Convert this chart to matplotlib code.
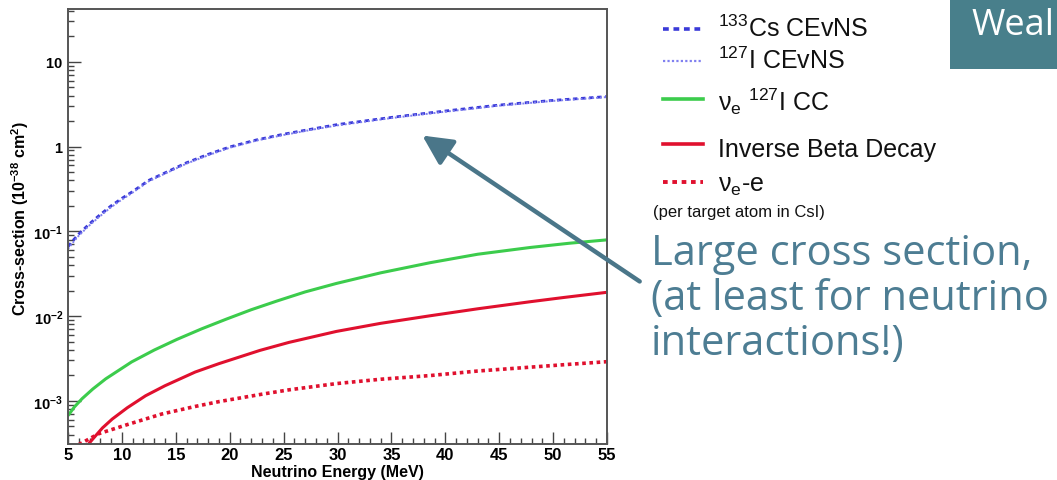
import matplotlib
matplotlib.use("Agg")
import matplotlib.pyplot as plt
from matplotlib.lines import Line2D
from matplotlib.patches import FancyArrowPatch, Rectangle, ArrowStyle
from matplotlib.ticker import FixedLocator, LogLocator, NullFormatter, MultipleLocator

plt.rcParams["font.family"] = ["Liberation Sans", "DejaVu Sans"]
plt.rcParams["mathtext.fontset"] = "custom"
plt.rcParams["mathtext.rm"] = "Liberation Sans"
plt.rcParams["mathtext.it"] = "Liberation Sans:italic"
plt.rcParams["mathtext.bf"] = "Liberation Sans:bold"

# ---- cross sections per target atom in CsI (1e-38 cm^2) vs neutrino energy (MeV)
cs_energy = [5, 5.5, 6, 7, 8, 9, 10, 11, 12.5, 14, 16, 18, 20, 22.5, 25, 27.5, 30, 35, 40, 45, 50, 55]
cs_cevns = [0.066, 0.079, 0.093, 0.123, 0.158, 0.200, 0.245, 0.295, 0.40, 0.49, 0.645, 0.81,
            0.99, 1.20, 1.40, 1.60, 1.82, 2.21, 2.63, 3.09, 3.51, 3.89]

i_energy = [5, 5.5, 6, 7, 8, 9, 10, 11, 12.5, 14, 16, 18, 20, 22.5, 25, 27.5, 30, 35, 40, 45, 50, 55]
i_cevns = [0.062, 0.075, 0.089, 0.118, 0.152, 0.193, 0.237, 0.287, 0.39, 0.48, 0.63, 0.79,
           0.97, 1.18, 1.37, 1.57, 1.78, 2.17, 2.58, 3.04, 3.46, 3.84]

cc_energy = [5, 5.6, 6.3, 7.3, 8.5, 10.9, 13, 15.1, 17.4, 19.7, 22, 24.4, 27, 29.9, 34,
             38.6, 43, 47.9, 51.5, 55]
nue_i_cc = [6.7e-4, 8.5e-4, 1.06e-3, 1.38e-3, 1.82e-3, 2.88e-3, 3.98e-3, 5.31e-3, 7.08e-3,
            9.23e-3, 0.0119, 0.0151, 0.0193, 0.0243, 0.0324, 0.0427, 0.0537, 0.0646, 0.0724, 0.0794]

ibd_energy = [6.9, 7.5, 8.2, 9.1, 10.5, 12.2, 14, 16.8, 19, 22.8, 25.5, 29.9, 34, 38.6,
              43, 47.9, 51, 55]
ibd = [3.1e-4, 3.8e-4, 4.8e-4, 6.1e-4, 8.3e-4, 1.15e-3, 1.51e-3, 2.19e-3, 2.75e-3, 3.94e-3,
       4.9e-3, 6.6e-3, 8.22e-3, 0.0101, 0.0122, 0.0148, 0.0166, 0.0191]

nue_e_energy = [6.0, 7.85, 10.6, 13.7, 16.8, 19, 23, 25.5, 29.9, 34, 38.6, 43, 47.9, 51.5, 55]
nue_e = [3.05e-4, 4.1e-4, 5.3e-4, 7.0e-4, 8.6e-4, 9.8e-4, 1.2e-3, 1.35e-3, 1.6e-3, 1.8e-3,
         1.99e-3, 2.25e-3, 2.5e-3, 2.7e-3, 2.9e-3]

x_ticks = [5, 10, 15, 20, 25, 30, 35, 40, 45, 50, 55]
y_ticks = [1e-3, 1e-2, 1e-1, 1, 10]
y_tick_labels = [r"$\mathbf{10^{-3}}$", r"$\mathbf{10^{-2}}$", r"$\mathbf{10^{-1}}$",
                 r"$\mathbf{1}$", r"$\mathbf{10}$"]

legend_labels = [r"$^{133}$Cs CEvNS", r"$^{127}$I CEvNS", r"ν$_\mathrm{e}$ $^{127}$I CC",
                 "Inverse Beta Decay", r"ν$_\mathrm{e}$-e"]

W, H = 1057, 481
fig = plt.figure(figsize=(W / 100, H / 100), dpi=100)


def fx(x):
    return x / W


def fy(y):
    return 1 - y / H


ax = fig.add_axes([fx(68), fy(445), fx(607 - 68), (445 - 10) / H])

c_cs = "#3a3ad8"
c_i = "#8080f0"
c_green = "#3ccc4c"
c_red = "#e0102e"

ax.plot(cs_energy, cs_cevns, color=c_cs, lw=2.0, dashes=(1.6, 1.3))
ax.plot(i_energy, i_cevns, color=c_i, lw=1.4, dashes=(1, 1))
ax.plot(cc_energy, nue_i_cc, color=c_green, lw=2.2, solid_capstyle="butt")
ax.plot(nue_e_energy, nue_e, color=c_red, lw=2.6, dashes=(1.0, 1.0))
ax.plot(ibd_energy, ibd, color=c_red, lw=2.2, solid_capstyle="butt")

ax.set_yscale("log")
ax.set_xlim(5, 55)
ax.set_ylim(3.1e-4, 42)

ax.xaxis.set_major_locator(FixedLocator(x_ticks))
ax.xaxis.set_minor_locator(MultipleLocator(1))
ax.set_xticklabels([str(v) for v in x_ticks])
ax.yaxis.set_major_locator(FixedLocator(y_ticks))
ax.yaxis.set_minor_locator(LogLocator(base=10, subs=range(2, 10), numticks=20))
ax.yaxis.set_minor_formatter(NullFormatter())
ax.set_yticklabels(y_tick_labels)

ax.tick_params(which="both", direction="in", top=False, right=False, color="#444444", width=1.0)
ax.tick_params(which="major", length=9)
ax.tick_params(which="minor", length=4.5)
ax.tick_params(axis="x", which="major", labelsize=12, pad=2.5)
ax.tick_params(axis="y", which="major", labelsize=10.5, pad=3.5)
for lab in ax.get_xticklabels():
    lab.set_fontweight("bold")

for sp in ax.spines.values():
    sp.set_color("#555555")
    sp.set_linewidth(1.4)

fig.text(fx(337), fy(473), "Neutrino Energy (MeV)", ha="center", va="center",
         fontsize=11.5, fontweight="bold")
fig.text(fx(20), fy(219), r"Cross-section (10$^{\mathbf{-38}}$ cm$^{\mathbf{2}}$)",
         rotation=90, ha="center", va="center", fontsize=11.5, fontweight="bold")

# legend drawn beside the axes
line_styles = [
    dict(color=c_cs, lw=2.6, dashes=(1.6, 1.3)),
    dict(color=c_i, lw=1.6, dashes=(1, 1)),
    dict(color=c_green, lw=2.6),
    dict(color=c_red, lw=2.6),
    dict(color=c_red, lw=2.8, dashes=(1.2, 1.2)),
]
line_rows = [30, 62, 100, 145, 183]
text_rows = [37, 69, 111, 157, 192]
for lab, st, ly, ty in zip(legend_labels, line_styles, line_rows, text_rows):
    fig.add_artist(Line2D([fx(663), fx(703)], [fy(ly), fy(ly)], transform=fig.transFigure, **st))
    fig.text(fx(718), fy(ty), lab, ha="left", va="baseline", fontsize=18, color="#111111")
fig.text(fx(653), fy(212), "(per target atom in CsI)", ha="left", va="center",
         fontsize=12, color="#111111")

# title box at the top right
fig.add_artist(Rectangle((fx(950), fy(70)), fx(W - 950), 70 / H, transform=fig.transFigure,
                         facecolor="#487f8b", edgecolor="none"))
fig.text(fx(971), fy(35), "Weal", ha="left", va="baseline", fontsize=26,
         family="Open Sans", color="white")

# callout
note_color = "#4d7d93"
for txt, base in zip(["Large cross section,", "(at least for neutrino", "interactions!)"],
                     [265, 310, 355]):
    fig.text(fx(651), fy(base), txt, ha="left", va="baseline", fontsize=30,
             family="Open Sans", color=note_color)

arrow = FancyArrowPatch((fx(642), fy(284)), (fx(420), fy(135)), transform=fig.transFigure,
                        arrowstyle=ArrowStyle("-|>", head_length=1.0, head_width=0.5),
                        mutation_scale=18, lw=3.2, color="#4a7689")
fig.add_artist(arrow)

fig.savefig("out.png", dpi=100, facecolor="white")
